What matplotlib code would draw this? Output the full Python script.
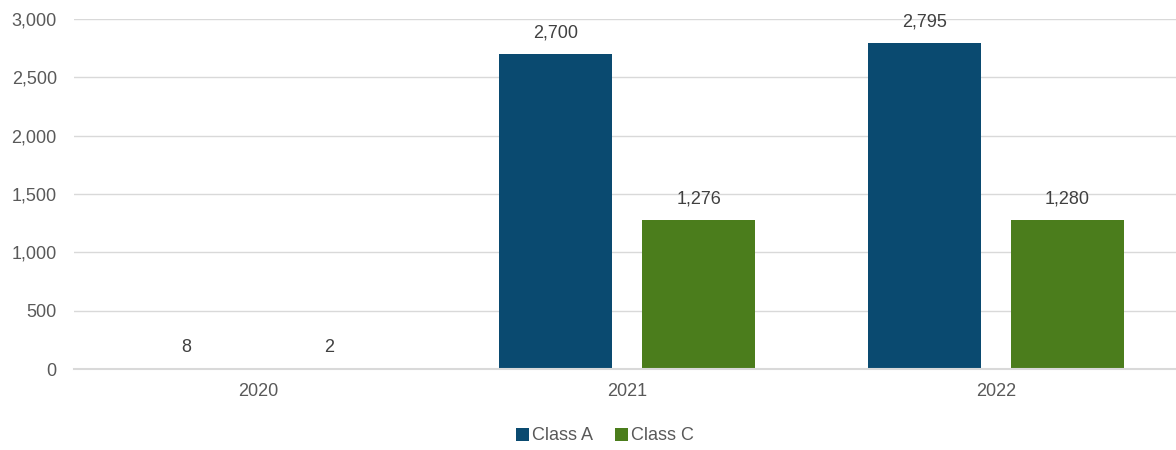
import numpy as np
import matplotlib.pyplot as plt

years = ["2020", "2021", "2022"]
class_a = [8, 2700, 2795]
class_c = [2, 1276, 1280]
yticks = [0, 500, 1000, 1500, 2000, 2500, 3000]

plt.rcParams['font.family'] = ['Liberation Sans', 'DejaVu Sans']

fig = plt.figure(figsize=(11.76, 4.5), dpi=100)
ax = fig.add_axes([73.5/1176, 1-369/450, 1107/1176, 350/450])

x = np.arange(len(years))
w = 0.306
off = 0.194
ba = ax.bar(x - off, class_a, w, color="#0a4a70", label="Class A", zorder=3)
bc = ax.bar(x + off, class_c, w, color="#4b7d1c", label="Class C", zorder=3)

for bars in (ba, bc):
    for b in bars:
        h = b.get_height()
        ax.annotate(f"{h:,.0f}", (b.get_x() + b.get_width()/2, h),
                    xytext=(0, 15), textcoords="offset points",
                    ha="center", va="center", fontsize=13, color="#404040")

ax.set_xlim(-0.5, 2.5)
ax.set_ylim(0, 3000)
ax.set_yticks(yticks)
ax.set_yticklabels([f"{v:,}" for v in yticks])
ax.set_xticks(x)
ax.set_xticklabels(years)
ax.tick_params(axis="both", length=0, labelsize=13, labelcolor="#595959")
ax.tick_params(axis="x", pad=10)
ax.tick_params(axis="y", pad=12)
ax.grid(axis="y", color="#d9d9d9", linewidth=1, zorder=0)
for s in ("top", "right", "left"):
    ax.spines[s].set_visible(False)
ax.spines["bottom"].set_color("#d9d9d9")
ax.spines["bottom"].set_linewidth(1.5)
ax.spines["bottom"].set_zorder(4)

leg = ax.legend(loc="center", bbox_to_anchor=(605/1176, 1-436/450),
                bbox_transform=fig.transFigure, ncol=2, frameon=False,
                fontsize=13, handlelength=0.7, handleheight=0.7,
                handletextpad=0.2, columnspacing=1.2)
for t in leg.get_texts():
    t.set_color("#595959")

fig.savefig("out.png", dpi=100)
